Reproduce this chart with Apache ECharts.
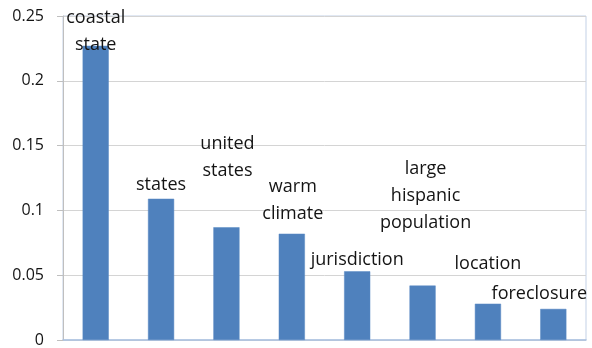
<!DOCTYPE html>
<html>
<head>
<meta charset="utf-8">
<style>
  html, body { margin: 0; padding: 0; background: #ffffff; }
  #chart { width: 592px; height: 348px; }
</style>
<script src="https://cdn.jsdelivr.net/npm/echarts@6/dist/echarts.min.js"></script>
</head>
<body>
<div id="chart"></div>
<script>
// Term weights, one bar per term
const terms = ['coastal state', 'states', 'united states', 'warm climate',
               'jurisdiction', 'large hispanic population', 'location', 'foreclosure'];
const weights = [0.227, 0.109, 0.087, 0.082, 0.053, 0.042, 0.028, 0.024];
// How each term is broken over lines in its label
const labelLines = [
  ['coastal', 'state'],
  ['states'],
  ['united', 'states'],
  ['warm', 'climate'],
  ['jurisdiction'],
  ['large', 'hispanic', 'population'],
  ['location'],
  ['foreclosure']
];
const yTicks = [0, 0.05, 0.1, 0.15, 0.2, 0.25];

// Hand-placed label nudges [dx, dy] in pixels, relative to the bar top
const labelNudge = [[0, 13], [0, 0], [1, -43], [1, -6], [0, 2], [3, -49], [0, -26], [-14, -2]];

const TEXT = '#141414';
const FONT = '"Open Sans", "Noto Sans", sans-serif';

const chart = echarts.init(document.getElementById('chart'), null, { renderer: 'canvas' });

chart.setOption({
  animation: false,
  backgroundColor: '#ffffff',
  grid: {
    left: 63, right: 6, top: 16, bottom: 7,
    show: true, borderColor: '#c3d1e6', borderWidth: 1, backgroundColor: 'transparent'
  },
  xAxis: {
    type: 'category',
    data: terms,
    axisLine: { show: true, lineStyle: { color: '#a9c0df', width: 1.5 } },
    axisTick: { show: false },
    axisLabel: { show: false },
    splitLine: { show: false }
  },
  yAxis: {
    type: 'value',
    min: yTicks[0],
    max: yTicks[yTicks.length - 1],
    interval: 0.05,
    axisLine: { show: true, lineStyle: { color: '#bfbfbf', width: 1 } },
    axisTick: { show: true, length: 6, lineStyle: { color: '#bfbfbf' } },
    splitLine: { show: true, lineStyle: { color: '#d4d4d4', width: 1 } },
    axisLabel: {
      color: TEXT, fontFamily: FONT, fontSize: 16, margin: 19,
      formatter: v => String(Math.round(v * 100) / 100)
    }
  },
  series: [{
    type: 'bar',
    data: weights.map((v, i) => ({
      value: v,
      label: {
        show: true,
        position: 'top',
        distance: 0,
        offset: labelNudge[i],
        formatter: labelLines[i].join('\n'),
        color: TEXT,
        fontFamily: FONT,
        fontSize: 18,
        lineHeight: 27,
        align: 'center'
      }
    })),
    barWidth: '40%',
    itemStyle: { color: '#4f81bd', borderColor: '#5a8ac4', borderWidth: 0.5 },
    z: 3
  }]
});
</script>
</body>
</html>
